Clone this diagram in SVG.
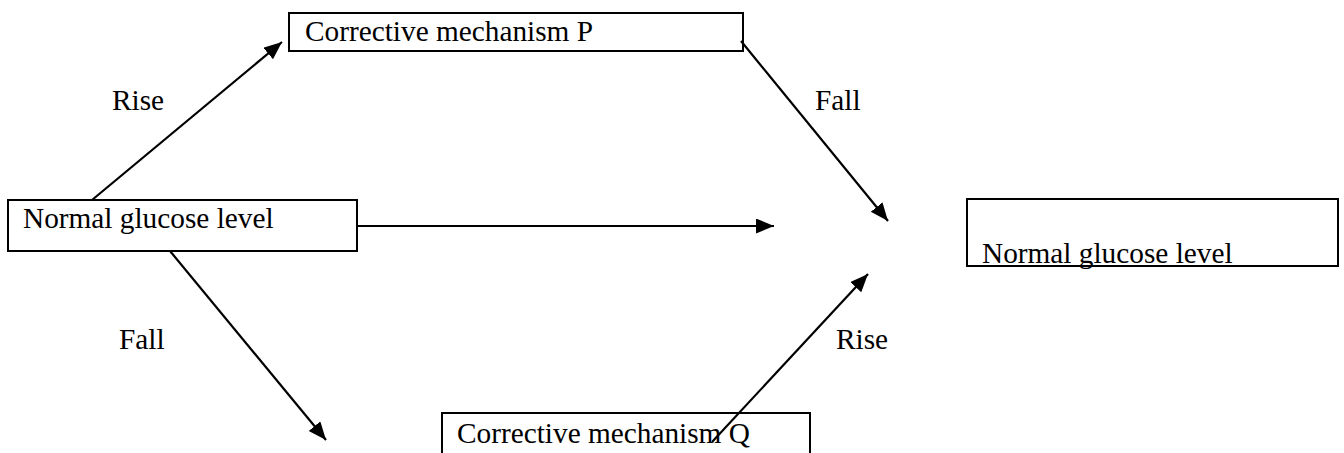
<svg xmlns="http://www.w3.org/2000/svg" width="1344" height="453" viewBox="0 0 1344 453">
<style>
.box{fill:#fff;stroke:#000;stroke-width:2}
.t{font-family:"Liberation Serif","Times New Roman",serif;font-size:29.3px;fill:#000}
.c{stroke:#000;stroke-width:2.2;fill:none}
</style>
<defs>
<marker id="ah" markerUnits="userSpaceOnUse" markerWidth="22" markerHeight="18" refX="18" refY="7.5" orient="auto">
<path d="M0,0 L18,7.5 L0,15 Z" fill="#000"/>
</marker>
</defs>
<rect width="1344" height="453" fill="#fff"/>
<g id="normal-left">
<rect class="box" x="8" y="200" width="349" height="51"/>
<text class="t" x="23" y="228">Normal glucose level</text>
</g>
<g id="mech-p">
<rect class="box" x="289" y="13" width="454" height="38"/>
<text class="t" x="305" y="41">Corrective mechanism P</text>
</g>
<g id="mech-q">
<rect class="box" x="442" y="413" width="368" height="50"/>
<text class="t" x="457" y="443">Corrective mechanism Q</text>
</g>
<g id="normal-right">
<rect class="box" x="967" y="199" width="371" height="67"/>
<text class="t" x="982" y="263">Normal glucose level</text>
</g>
<g id="connectors">
<line class="c" x1="92" y1="200" x2="282" y2="42" marker-end="url(#ah)"/>
<line class="c" x1="357" y1="226" x2="774" y2="226" marker-end="url(#ah)"/>
<line class="c" x1="170" y1="251" x2="326" y2="440" marker-end="url(#ah)"/>
<line class="c" x1="741" y1="41" x2="888" y2="221" marker-end="url(#ah)"/>
<line class="c" x1="712" y1="442" x2="868" y2="274" marker-end="url(#ah)"/>
<text class="t" x="112" y="110">Rise</text>
<text class="t" x="815" y="110">Fall</text>
<text class="t" x="119" y="349">Fall</text>
<text class="t" x="836" y="349">Rise</text>
</g>
</svg>
